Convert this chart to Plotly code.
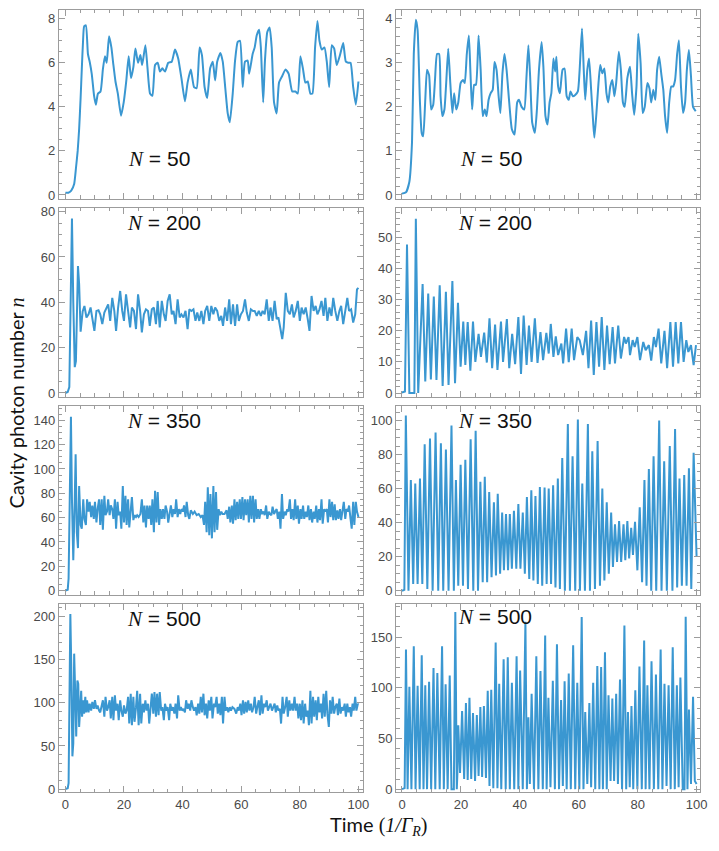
import plotly.graph_objects as go

# ---------------- data (time, cavity photon number) ----------------
L50 = [(0,0.1),(1,0.1),(2,0.2),(3,0.5),(3.6,1.2),(4.2,2.0),(4.7,3.0),(5.2,4.4),(5.6,5.7),(6.0,6.9),(6.4,7.65),(7,7.7),
       (7.7,6.4),(8.3,6.05),(9,5.5),(9.8,4.5),(10.4,4.1),(11.1,4.6),(12,4.7),(12.8,5.7),(13.5,6.3),(14.1,6.0),(14.9,7.2),
       (15.7,6.7),(16.3,6.0),(17.1,5.15),(17.9,4.6),(19,3.6),(19.9,4.2),(20.8,5.2),(21.6,6.3),(22.4,5.3),(23.2,5.8),
       (23.9,6.65),(24.8,6.0),(25.6,6.35),(26.2,5.9),(27.3,6.8),(28,5.8),(28.9,4.6),(29.7,4.5),(30.6,5.9),(31.5,6.0),
       (32.3,5.6),(33.1,5.75),(34,5.6),(35.1,6.0),(36.3,6.05),(37.4,6.6),(38.5,6.2),(39.6,5.3),(40.8,4.25),(41.7,5.1),
       (42.8,5.7),(43.9,4.9),(44.8,4.85),(45.8,6.7),(46.6,6.35),(47.5,4.9),(48.4,4.4),(49.4,5.75),(50.3,6.05),(51.1,5.2),
       (51.8,6.05),(52.9,6.45),(53.7,6.05),(54.6,4.8),(55.4,3.7),(56.1,3.3),(57.1,4.6),(57.9,6.1),(58.8,6.95),(59.6,7.0),
       (60.5,4.9),(61.3,6.05),(62.2,6.1),(62.7,5.5),(63.9,6.4),(64.6,6.7),(65.3,7.25),(66.1,7.5),(66.7,6.7),(67.5,4.2),
       (68.1,6.1),(68.9,7.4),(69.7,7.6),(70.4,6.7),(71.2,4.2),(72.1,3.7),(72.9,5.1),(74,5.4),(75.1,5.7),(76.2,5.5),
       (77.4,4.7),(78.5,4.7),(79.3,4.6),(80.2,6.3),(81.1,5.7),(81.9,5.1),(82.7,5.15),(83.6,4.6),(84.3,4.6),(85.2,6.7),
       (86,7.9),(86.7,7.0),(87.5,6.6),(88.4,6.7),(89.2,6.05),(90,4.9),(90.9,6.8),(91.7,6.65),(92.6,5.9),(93.7,6.35),
       (94.8,6.9),(95.7,6.05),(96.5,6.0),(97.3,6.0),(98.2,4.9),(99.1,4.1),(100,5.15)]

R50 = [(0,0.03),(1.35,0.06),(2.5,0.3),(3.4,1.2),(4.0,3.2),(4.7,3.98),(5.3,3.74),(6.1,2.1),(6.7,1.4),(7.2,1.33),(7.9,2.16),
       (8.5,2.84),(9.2,2.72),(9.9,1.94),(10.6,2.05),(11.2,2.61),(11.9,3.2),(12.6,3.2),(13.1,2.24),(13.7,1.79),(14.4,1.94),
       (15,2.54),(15.7,3.32),(16.4,2.54),(17.1,1.86),(17.7,2.31),(18.4,1.94),(19.1,2.1),(19.9,2.54),(20.7,2.61),(21.3,2.54),
       (22,3.2),(22.7,3.62),(23.2,2.84),(23.8,1.94),(24.5,2.5),(25.1,2.5),(26,3.62),(26.7,2.84),(27.4,1.79),(28.1,1.94),
       (28.7,1.79),(29.4,2.16),(30.1,2.31),(30.8,2.39),(31.4,3.02),(32.1,2.84),(32.8,2.24),(33.4,1.86),(34.1,2.76),
       (34.8,3.2),(35.5,2.84),(36.4,2.1),(37.3,1.49),(38.2,1.37),(39.1,2.1),(39.7,2.16),(40.6,2.0),(41.5,1.94),(42.2,2.61),
       (42.9,3.4),(43.5,2.69),(44.2,1.64),(45.1,1.41),(45.8,1.94),(46.5,2.84),(47.4,3.47),(48,2.91),(48.7,1.79),(49.4,1.6),
       (50.1,2.1),(50.7,2.31),(51.4,3.1),(52,2.8),(52.4,3.14),(53,2.46),(53.6,2.31),(54.5,2.84),(55.2,2.87),(55.9,2.24),
       (56.6,2.16),(57.2,2.35),(58,2.24),(58.8,2.27),(59.7,2.35),(60.3,2.84),(61.1,3.78),(61.7,2.84),(62.2,2.16),(62.9,2.84),
       (63.5,3.1),(64.2,2.39),(64.9,1.64),(65.3,1.3),(66,1.86),(66.7,2.54),(67.3,2.95),(68,2.76),(68.7,2.87),(69.4,2.31),
       (70,2.1),(70.7,2.46),(71.4,2.61),(72.1,2.24),(72.7,2.54),(73.6,3.25),(74.3,2.84),(75,2.1),(75.6,2.0),(76.5,2.65),
       (77.4,2.91),(78.1,2.31),(78.8,1.82),(79.6,2.46),(80.2,3.66),(81,2.99),(81.7,1.86),(82.4,2.0),(83.3,2.54),(84,2.42),
       (84.6,2.1),(85.3,2.39),(86,2.16),(86.6,2.84),(87.3,3.14),(88,2.76),(88.7,2.39),(89.3,1.79),(90,1.41),(90.7,2.1),
       (91.4,2.46),(92,2.46),(92.7,2.61),(93.4,3.2),(94,3.51),(94.7,2.46),(95.4,1.86),(96.1,2.1),(96.7,2.84),(97.4,3.29),
       (98.1,2.69),(98.8,2.0),(99.7,1.9)]

L200 = [(0,0),(0.8,0.4),(1.35,2.6),(1.9,55),(2.25,77),(2.7,40),(3.2,11.4),(3.6,14),(4.3,56),(4.7,48),(5.2,27),(5.9,36),
        (6.5,38.4),(7.2,33.3),(7.9,34.7),(8.6,37.7),(9.2,31.8),(9.9,27.4),(10.6,36.2),(11.3,36.5),(11.9,34.7),(12.6,30.4),
        (13.3,35.5),(14,37.7),(14.6,39.1),(15.3,31.8),(16,42),(16.7,36.2),(17.3,27.4),(18,37.7),(18.7,45),(19.4,36.2),
        (20,31.8),(20.7,43.5),(21.4,36.2),(22.1,28.9),(22.7,37.7),(23.4,36.2),(24.1,28.2),(24.8,43.5),(25.5,36.2),
        (26.1,26.7),(26.8,34.7),(27.5,36.9),(28.2,36.2),(28.8,29.6),(29.5,36.9),(30.2,37.7),(30.9,30.4),(31.5,40.6),
        (32.2,28.9),(32.9,40.6),(33.6,34.7),(34.2,31.8),(34.9,40.6),(35.6,43.5),(36.3,34.7),(36.9,36.2),(37.6,30.4),
        (38.3,41.3),(39,33.3),(39.6,34.7),(40.3,33.3),(41,36.2),(41.7,28.2),(42.3,36.9),(43,36.2),(43.7,36.9),(44.4,31.8),
        (45,35.5),(45.7,31.8),(46.4,36.2),(47.1,30.4),(47.7,36.2),(48.4,38.4),(49.1,31.8),(49.8,38.4),(50.5,34.7),
        (51.1,37.7),(51.8,36.2),(52.5,31.8),(53.2,34),(53.8,29.6),(54.5,37.7),(55.2,31.8),(55.9,41.3),(56.5,30.4),
        (57.2,39.1),(57.9,29.6),(58.6,39.1),(59.2,31.8),(59.9,34.7),(60.6,36.2),(61.3,41.3),(61.9,35.5),(62.6,31.8),
        (63.3,36.9),(64,36.2),(64.6,36.2),(65.3,34),(66,36.2),(66.7,34),(67.3,36.2),(68,34.7),(68.7,41.3),(69.4,31.8),
        (70,37.7),(70.7,31.8),(71.4,40.6),(72.1,32.6),(72.7,33.3),(73.4,28.9),(74,23.8),(74.5,28.9),(75.2,44.2),(75.9,36.2),
        (76.6,34.7),(77.3,39.1),(77.9,33.3),(78.6,36.2),(79.3,40.6),(80,31.8),(80.6,37.7),(81.3,34.7),(82,37.7),(82.7,32.6),
        (83.3,27.4),(84,42.8),(84.7,36.2),(85.4,38.4),(86,34.7),(86.7,36.9),(87.4,40.6),(88.1,34),(88.7,42),(89.4,31.8),
        (90.1,37.7),(90.8,34),(91.4,42),(92.1,36.2),(92.8,31.8),(93.5,36.2),(94.1,38.4),(94.8,30.4),(95.5,35.5),(96.2,42),
        (96.8,36.2),(97.5,36.9),(98.2,31.1),(98.9,34.7),(99.5,45.7),(100,46.4)]

R200 = [(0,0.2),(1,0.5),(1.7,47.7),(2.5,0),(4.2,0),(4.7,56),(5.5,0),(7,35),(7.9,3.7),(8.9,32),(9.8,4.4),(10.8,31),(11.7,4.2),
        (12.8,34.6),(13.8,2.3),(14.9,32.5),(15.8,2.6),(17.1,36),(18,3.2),(19,29),(19.9,8.5),(20.8,23),(21.5,9),(22.3,22.8),
        (23.2,7.2),(24.1,23),(24.9,10),(26,19),(26.8,11.6),(27.9,19.4),(28.8,9.8),(29.7,24),(30.6,8),(31.6,22),(32.4,7.4),
        (33.6,23),(34.3,10),(35.6,23.8),(36.4,8),(37.4,19),(38.4,9.3),(39.5,24.4),(40.4,6.1),(41.3,24.9),(42.3,9),(43.1,21.7),
        (44,10),(45.1,24),(46,9.7),(47,19.6),(47.9,10.6),(49,19.3),(49.8,12.7),(50.5,22.2),(51.4,11.6),(52.2,18.2),(53,12.2),
        (54.1,15.9),(54.7,9.5),(55.7,20.7),(56.6,9.9),(57.6,20.7),(58.4,10.6),(59.5,18),(60.3,17),(61.4,12.2),(62.5,20),
        (63.3,8),(64.2,23.3),(65.1,5.8),(66,22.8),(66.9,8.5),(67.8,24.4),(68.7,7.4),(69.6,21.7),(70.5,9.3),(71.5,21.2),
        (72.3,9.5),(73.4,21.7),(74.3,11.1),(75.4,18),(76,15.9),(76.9,18),(77.4,12.2),(78.3,17),(79,14.8),(79.9,18),(80.8,10.6),
        (81.9,16.4),(82.7,13.8),(83.8,15.4),(84.6,10.4),(85.5,18),(86.2,14.8),(87.1,20.7),(88,9.5),(89.1,20),(90,8),(91.1,22.8),
        (92,8.5),(92.9,22.8),(93.8,9.5),(94.7,22.8),(95.6,10),(96.5,17),(97.2,13.2),(98.1,15.4),(99,9),(99.8,15.4)]

L350 = [(0,0),(0.8,0.8),(1.1,10),(1.6,102),(1.9,143),(2.25,75),(2.7,25),(3.2,75),(3.5,112),(3.9,48),(4.3,35),(4.7,86),(5.2,54),
        (5.6,51),(6.1,75),(6.5,59),(7,54),(7.4,75),(7.9,65),(8.3,73),(8.8,60.5),(9.2,70),(9.7,59),(10.1,73),(10.6,56),(11,67),
        (11.5,75),(11.9,54),(12.4,75),(12.8,50),(13.3,78),(13.7,62),(14.2,65),(14.6,75),(15.1,62),(15.5,70),(16,67),(16.4,59),
        (16.9,75),(17.3,51),(17.8,73),(18.2,62),(18.7,65),(19.1,51),(19.6,86),(20,56),(20.5,78),(20.9,54),(21.4,75),(21.8,52),
        (22.3,67),(22.7,77),(23.2,58),(23.6,62),(24.1,60.5),(24.5,62),(25,60.5),(25.6,63),(26.1,75),(26.6,56),(27,70),(27.5,52),
        (27.9,70),(28.4,59),(28.8,70),(29.3,54),(29.7,75),(30.2,48),(30.6,82),(31.1,56),(31.5,81),(32,54),(32.4,67),(32.9,59),
        (33.3,67),(33.8,59),(34.2,70),(34.7,65),(35.1,56),(35.6,65),(36,70),(36.5,60.5),(36.9,67),(37.4,63),(37.8,75),(38.3,60.5),
        (38.7,67),(39.2,63),(39.6,67),(40.1,65),(40.5,70),(41,60.5),(41.4,73),(41.9,62),(42.3,59),(42.8,66),(43.5,63),(44.1,65),
        (44.8,62),(45.5,63),(46.2,60.5),(46.8,62),(47.3,54),(47.7,73),(48.2,48),(48.6,85),(49.1,45.6),(49.5,79.5),(50,43),
        (50.5,86),(50.9,48),(51.4,81),(51.8,50),(52.3,67),(52.7,62),(53.2,65),(53.6,63),(54.3,63),(55,66),(55.4,59),(55.9,69),
        (56.3,56),(56.8,70),(57.2,55),(57.7,75),(58.1,58),(58.6,73),(59,59),(59.5,75),(59.9,59),(60.4,77),(60.8,58),(61.3,75),
        (61.7,62),(62.2,75),(62.6,56),(63.1,78),(63.5,59),(64,78),(64.4,56),(64.9,75),(65.3,59),(65.8,67),(66.2,59),(66.7,67),
        (67.1,63),(67.6,65),(68,62),(68.5,70),(68.9,59),(69.4,65),(69.8,63),(70.3,62),(70.7,69),(71.2,63),(71.6,65),(72.1,67),
        (72.5,59),(73,65),(73.4,51),(73.9,79.5),(74.3,59),(74.8,65),(75.2,62),(75.7,67),(76.1,65),(76.6,75),(77,59),(77.5,67),
        (77.9,58),(78.4,75),(78.8,59),(79.3,70),(79.7,55),(80.2,67),(80.6,59),(81.1,70),(81.5,59),(82,65),(82.4,60.5),(82.9,70),
        (83.3,58),(83.8,67),(84.2,56),(84.7,65),(85.1,59),(85.6,70),(86,56),(86.5,67),(86.9,58),(87.4,75),(87.8,55),(88.3,67),
        (88.7,65),(89.2,67),(89.6,56),(90.1,75),(90.5,60.5),(91,73),(91.4,58),(91.9,71),(92.3,58),(92.8,66),(93.2,59),(93.7,67),
        (94.1,58),(94.6,67),(95,73),(95.5,59),(95.9,67),(96.4,65),(96.8,70),(97.3,59),(97.7,51),(98.2,73),(98.6,54),(99.1,73),
        (99.5,65),(100,60.5)]

R350 = [(0,0),(0.8,0.5),(1.3,103),(2.2,0),(3.0,65),(3.8,4),(4.5,63),(5.3,4),(6.1,66),(6.9,4),(7.7,86),(8.6,1),(9.5,89.5),
        (10.4,0),(11.4,93),(12.3,0),(13.2,86.6),(14,0),(14.9,83),(15.8,0),(16.8,97),(17.6,0),(18.3,65),(19.1,3),(19.9,74),
        (20.7,3),(21.5,77),(22.4,1),(23.3,89),(24.2,0),(25,94),(25.8,0),(26.6,64),(27.4,5),(28.1,67),(28.9,5),(29.6,58),(30.4,8),
        (31.2,52),(31.9,9),(32.5,57),(33.3,10),(34,46),(34.6,12),(35.3,45),(36,12),(36.6,45),(37.3,13),(38,47),(38.8,13),
        (39.5,51),(40.2,13),(41,46),(41.7,10),(42.4,55),(43.2,7),(43.9,59),(44.6,6),(45.3,55.6),(46.1,4),(46.8,61),(47.6,3),
        (48.4,60.6),(49.1,4),(49.8,60),(50.6,4),(51.3,62),(52.1,2),(52.9,66),(53.6,1),(54.4,78),(55.3,0),(56.3,98),(57,0),
        (57.9,79),(58.8,0),(59.7,100.6),(60.4,0),(61.2,63),(62.1,0),(63.1,98),(63.8,0),(64.6,82),(65.5,1),(66.4,88),(67.2,3),
        (68,60),(68.7,6),(69.5,52),(70.2,10),(71,46),(71.6,14),(72.3,39),(73,17),(73.7,41),(74.4,17),(75.2,39),(75.8,18),
        (76.5,41),(77.1,19),(77.8,37),(78.4,21),(79.1,40.5),(79.9,12),(80.7,49),(81.5,5),(82.3,65),(83,3),(83.8,71.5),(84.6,0),
        (85.4,79),(86.3,0),(87.3,100),(88.1,0),(89,76),(89.9,0),(90.9,85),(91.8,0),(92.7,95),(93.4,2),(94.2,66),(95,3),
        (95.8,68),(96.6,3),(97.4,72),(98.2,1),(99,81),(100,20)]

L500 = [(0,0),(0.8,1),(1.1,7),(1.5,107),(1.7,203),(2,145),(2.4,38),(2.7,53),(3,157),(3.4,107),(3.7,61),(4.1,126),(4.4,122),
        (4.7,72),(5.1,107),(5.4,114),(5.7,84),(6.1,103),(6.4,87.5),(6.8,107),(7.1,89),(7.4,103),(7.9,89),(8.3,99),(8.8,91),
        (9.2,101),(9.7,93),(10.1,103),(10.6,93),(11,97),(11.5,91),(11.9,89),(12.4,97),(12.8,103),(13.3,84),(13.7,107),(14.2,91),
        (14.6,95),(15.1,103),(15.5,82),(16,107),(16.4,80),(16.9,108.6),(17.3,91),(17.8,99),(18.2,80),(18.7,103),(19.1,91),
        (19.6,84),(20,97),(20.5,87.5),(20.9,91),(21.4,107),(21.8,76),(22.3,110.6),(22.7,74),(23.2,107),(23.6,78),(24.1,95),
        (24.5,114),(25,74),(25.5,110.6),(25.9,76),(26.4,99),(26.8,89),(27.3,103),(27.7,91),(28.2,99),(28.6,76),(29.1,99),
        (29.5,110.6),(30,87.5),(30.4,112.5),(30.9,84),(31.3,110.6),(31.8,85.6),(32.2,112.5),(32.7,91),(33.1,95),(33.6,80),
        (34,99),(34.5,91),(34.9,95),(35.4,80),(35.8,99),(36.3,91),(36.7,95),(37.2,87.5),(37.6,99),(38.1,82),(38.5,108.6),
        (39,91),(39.4,95),(39.9,91),(40.3,93),(40.8,89),(41.2,103),(41.7,93),(42.1,99),(42.6,91),(43,103),(43.5,95),(43.9,91),
        (44.4,95),(44.8,85.6),(45.3,99),(45.7,87.5),(46.2,107),(46.6,89),(47.1,110.6),(47.5,85.6),(48,99),(48.4,82),(48.9,103),
        (49.3,91),(49.8,107),(50.2,82),(50.7,99),(51.1,95),(51.6,107),(52,87.5),(52.5,99),(52.9,85.6),(53.4,107),(53.8,76),
        (54.3,107),(54.7,91),(55.2,95),(55.6,89),(56.1,95),(56.5,91),(57,95),(57.7,93),(58.3,87.5),(58.8,95),(59.2,91),(59.7,99),
        (60.1,85.6),(60.6,103),(61,87.5),(61.5,101),(61.9,89),(62.4,103),(62.8,91),(63.3,99),(63.7,89),(64.2,95),(64.6,107),
        (65.1,87.5),(65.5,95),(66,103),(66.4,85.6),(66.9,108.6),(67.3,87.5),(67.8,99),(68.2,95),(68.7,103),(69.1,91),(69.6,95),
        (70,99),(70.5,91),(70.9,95),(71.4,99),(71.8,89),(72.3,97),(72.7,91),(73.2,93),(73.6,76),(74.1,107),(74.5,87.5),(75,95),
        (75.5,107),(75.9,84),(76.4,103),(76.8,91),(77.3,99),(77.7,91),(78.2,107),(78.6,91),(79.1,99),(79.5,82),(80,99),(80.4,80),
        (80.9,103),(81.3,76),(81.8,99),(82.2,84),(82.7,91),(83.1,74),(83.6,114),(84,76),(84.5,107),(84.9,84),(85.4,103),(85.8,80),
        (86.3,107),(86.7,89),(87.2,99),(87.6,82),(88.1,110.6),(88.5,84),(89,114),(89.4,87.5),(89.9,72),(90.3,103),(90.8,87.5),
        (91.2,107),(91.7,87.5),(92.1,95),(92.6,99),(93,85.6),(93.5,105),(93.9,87.5),(94.4,95),(94.8,91),(95.3,99),(95.7,84),
        (96.2,99),(96.6,89),(97.1,95),(97.5,84),(98,99),(98.4,91),(98.9,107),(99.3,91),(99.8,99),(100,98)]

R500 = [(0,0),(0.9,1),(1.35,137.6),(1.9,0),(2.5,101),(3.2,0),(4.0,141),(4.6,0),(5.3,102),(6.0,0),(6.7,132),(7.3,0),(7.9,102.5),
        (8.5,0),(9.2,106),(9.9,0),(10.7,119.5),(11.3,0),(12,114.6),(12.8,0),(13.6,141),(14.2,0),(14.8,103.5),(15.5,0),(16.2,112),
        (16.8,0),(17.6,0),(18.1,174.6),(18.6,0),(18.8,15),(19.1,63),(19.7,16),(20.4,77),(21.1,10),(21.7,85),(22.3,9),(22.9,90),
        (23.5,10),(24.1,75),(24.8,8),(25.4,73),(26,13),(26.6,81),(27.2,12),(27.8,82),(28.5,11),(29.1,97),(29.7,3),(30.3,98),
        (31,1),(31.8,144.5),(32.4,1),(33,104),(33.7,0),(34.5,128),(35.2,0),(35.9,130),(36.6,0),(37.3,105),(38.1,0),(38.9,131),
        (39.5,0),(40.1,117),(41,0),(41.9,165),(42.4,0),(42.9,71),(43.4,5),(44,94),(44.8,0),(45.6,131),(46.3,0),(47,116.6),
        (47.8,0),(48.6,151.6),(49.1,0),(49.7,90),(50.4,2),(51.2,107),(51.9,0),(52.6,143),(53.3,0),(54,88),(54.6,3),(55.2,106.5),
        (55.9,0),(56.6,114),(57.3,0),(58.1,142),(58.8,0),(59.5,105),(60.2,0),(61,169.7),(61.6,0),(62.2,76),(62.9,5),(63.6,85),
        (64.2,2),(64.9,105),(65.6,0),(66.3,121.5),(67,0),(67.6,120.5),(68.2,0),(68.9,135),(69.5,0),(70.1,92.7),(70.8,8),
        (71.4,89.4),(72,8),(72.7,94),(73.3,5),(74,108),(74.7,0),(75.5,161.5),(76.1,0),(76.7,76),(77.3,2),(77.9,82),(78.5,0),
        (79.2,97.6),(79.9,0),(80.6,121),(81.4,0),(82.2,146.7),(82.7,0),(83.3,102.5),(84,0),(84.7,126),(85.5,0),(86.2,113),
        (87,0),(87.8,137.6),(88.4,0),(89.1,104),(89.8,3),(90.5,102.5),(91.2,0),(91.9,140),(92.6,0),(93.3,102.5),(93.9,2),
        (94.5,110),(95.3,0),(95.9,0),(96.3,170),(96.9,0),(97.4,78.6),(98.1,5),(98.8,91),(99.4,8),(100,5)]

panel_series = [L50, R50, L200, R200, L350, R350, L500, R500]
panel_labels = ["50", "50", "200", "200", "350", "350", "500", "500"]
y_ranges = [(-0.18, 8.4), (-0.09, 4.2), (-1.7, 81.7), (-1.2, 59.5),
            (-3.3, 152), (-2.3, 108.7), (-3.4, 215), (-2.9, 183)]
y_dticks = [2, 1, 20, 10, 20, 20, 50, 50]
y_minor = [0.5, 0.2, 5, 2, 5, 5, 10, 10]
x_ticks = [0, 20, 40, 60, 80, 100]

# ---------------- layout geometry (pixels -> paper) ----------------
W, H = 719, 851
col_px = [(59.5, 367), (400, 707.3)]
row_px = [(6, 197), (206, 397), (406, 597), (606, 796.5)]
LINE = "#3a97d1"
FRAME = "#9c9c9c"

fig = go.Figure()
layout = dict(width=W, height=H, margin=dict(l=0, r=0, t=0, b=0),
              paper_bgcolor="white", plot_bgcolor="white", showlegend=False)
annotations = []

for k in range(8):
    r, c = divmod(k, 2)
    idx = k + 1
    xs = [p[0] for p in panel_series[k]]
    ys = [p[1] for p in panel_series[k]]
    line = dict(color=LINE, width=2)
    if r == 0:
        line.update(shape="spline", smoothing=0.5)
    fig.add_trace(go.Scatter(x=xs, y=ys, mode="lines", line=line,
                             xaxis=f"x{idx}", yaxis=f"y{idx}", hoverinfo="skip"))
    x0, x1 = col_px[c]
    y0, y1 = row_px[r]
    common = dict(showline=True, linecolor=FRAME, linewidth=1, mirror="ticks",
                  ticks="inside", ticklen=6, tickwidth=1, tickcolor=FRAME,
                  showgrid=False, zeroline=False,
                  tickfont=dict(family="Liberation Sans, Arial, sans-serif", size=13, color="#4a4a4a"))
    layout[f"xaxis{idx}"] = dict(
        domain=[x0 / W, x1 / W], anchor=f"y{idx}",
        range=[-2.2 if c == 0 else -2.0, 101.7 if c == 0 else 101.3],
        tickvals=x_ticks, showticklabels=(r == 3),
        minor=dict(ticks="inside", ticklen=3.5, dtick=5, tick0=0, tickcolor=FRAME, showgrid=False),
        **common)
    layout[f"yaxis{idx}"] = dict(
        domain=[1 - y1 / H, 1 - y0 / H], anchor=f"x{idx}",
        range=list(y_ranges[k]), dtick=y_dticks[k], tick0=0,
        minor=dict(ticks="inside", ticklen=3.5, dtick=y_minor[k], tick0=0, tickcolor=FRAME, showgrid=False),
        **common)

# N labels (pixel centres)
label_pos = [(161, 157), (496, 157), (166, 221), (500, 221), (166, 421), (500, 421), (166, 622), (500, 620)]
for k in range(8):
    px, py = label_pos[k]
    annotations.append(dict(
        x=px / W, y=1 - py / H, xref="paper", yref="paper", showarrow=False,
        xanchor="center", yanchor="middle",
        text='<span style="font-family:Liberation Serif"><i>N</i></span> = ' + panel_labels[k],
        font=dict(family="Liberation Sans, Arial, sans-serif", size=21, color="#111")))

# axis titles
annotations.append(dict(
    x=16 / W, y=1 - 403 / H, xref="paper", yref="paper", showarrow=False, textangle=-90,
    xanchor="center", yanchor="middle",
    text='Cavity photon number <span style="font-family:Liberation Serif"><i>n</i></span>',
    font=dict(family="Lato, sans-serif", size=20, color="#111")))
annotations.append(dict(
    x=383 / W, y=1 - 830 / H, xref="paper", yref="paper", showarrow=False,
    xanchor="center", yanchor="middle",
    text='Time <span style="font-family:Liberation Serif">(<i>1/Γ<sub>R</sub></i>)</span>',
    font=dict(family="Lato, sans-serif", size=20, color="#111")))

layout["annotations"] = annotations
fig.update_layout(**layout)
fig.write_html("out.html")
